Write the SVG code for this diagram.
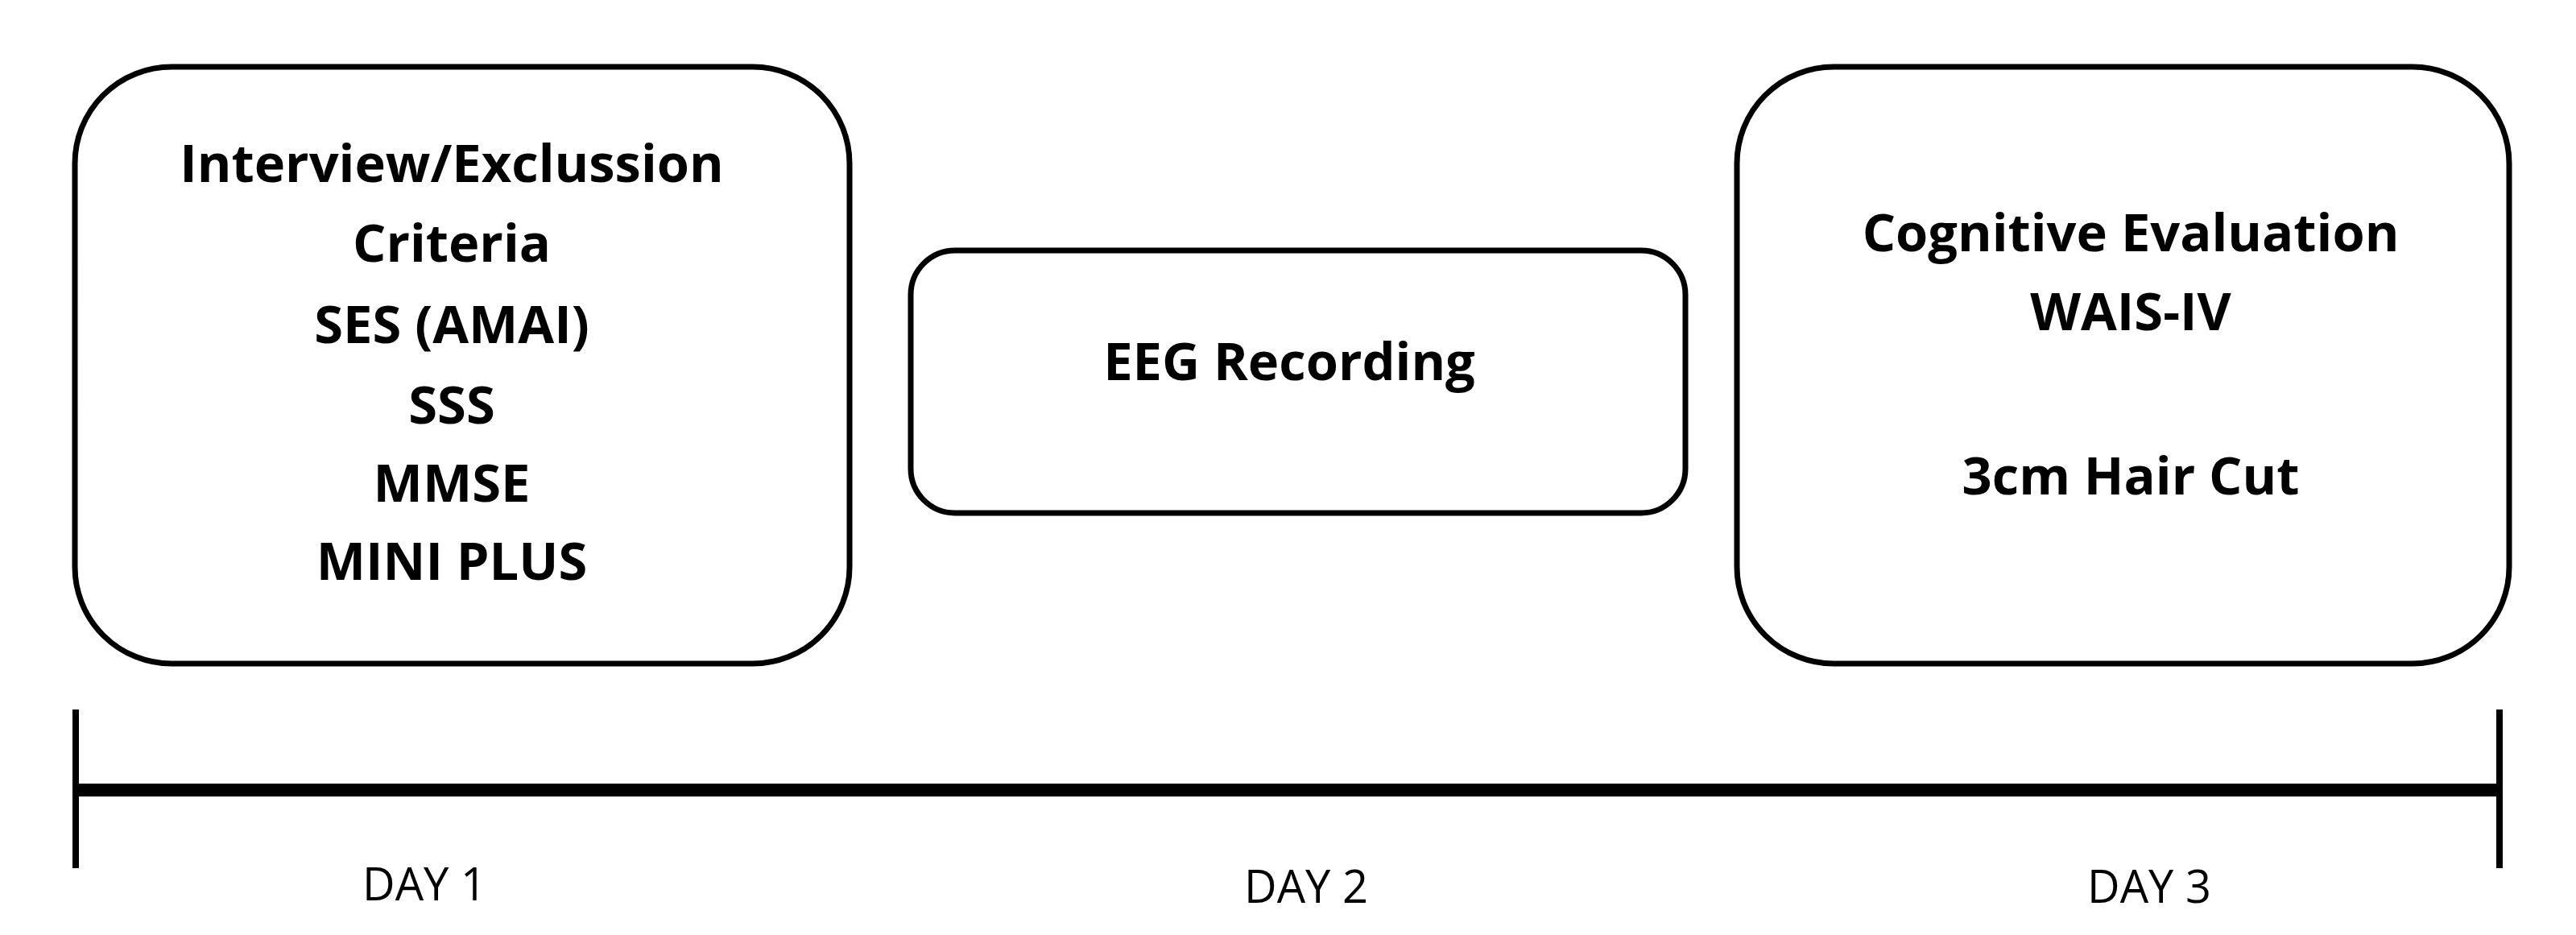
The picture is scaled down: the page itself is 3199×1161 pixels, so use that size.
<svg xmlns="http://www.w3.org/2000/svg" width="3199" height="1161" viewBox="0 0 3199 1161">
<style>
.box{fill:#fff;stroke:#000;stroke-width:7}
.t{font-family:"Open Sans","Liberation Sans",sans-serif;font-weight:bold;font-size:65px;text-anchor:middle;fill:#000}
.d{font-family:"Open Sans","Liberation Sans",sans-serif;font-size:56px;text-anchor:middle;fill:#000}
</style>
<rect width="3199" height="1161" fill="#fff"/>
<g id="day1">
<rect class="box" x="93" y="83" width="962" height="741" rx="120"/>
<text class="t" x="561" y="226">Interview/Exclussion</text>
<text class="t" x="561" y="325">Criteria</text>
<text class="t" x="561" y="426">SES (AMAI)</text>
<text class="t" x="561" y="526">SSS</text>
<text class="t" x="561" y="623">MMSE</text>
<text class="t" x="561" y="720">MINI PLUS</text>
</g>
<g id="day2">
<rect class="box" x="1131" y="311" width="962" height="326" rx="55"/>
<text class="t" x="1601" y="472">EEG Recording</text>
</g>
<g id="day3">
<rect class="box" x="2157" y="83" width="959" height="741" rx="120"/>
<text class="t" x="2646" y="312">Cognitive Evaluation</text>
<text class="t" x="2646" y="410">WAIS-IV</text>
<text class="t" x="2646" y="614">3cm Hair Cut</text>
</g>
<g id="connectors">
<line x1="94" y1="981" x2="3104" y2="981" stroke="#000" stroke-width="16"/>
<line x1="94" y1="881" x2="94" y2="1078" stroke="#000" stroke-width="8"/>
<line x1="3104" y1="881" x2="3104" y2="1078" stroke="#000" stroke-width="8"/>
</g>
<text class="d" x="527" y="1118">DAY 1</text>
<text class="d" x="1622" y="1121">DAY 2</text>
<text class="d" x="2669" y="1121">DAY 3</text>
</svg>
